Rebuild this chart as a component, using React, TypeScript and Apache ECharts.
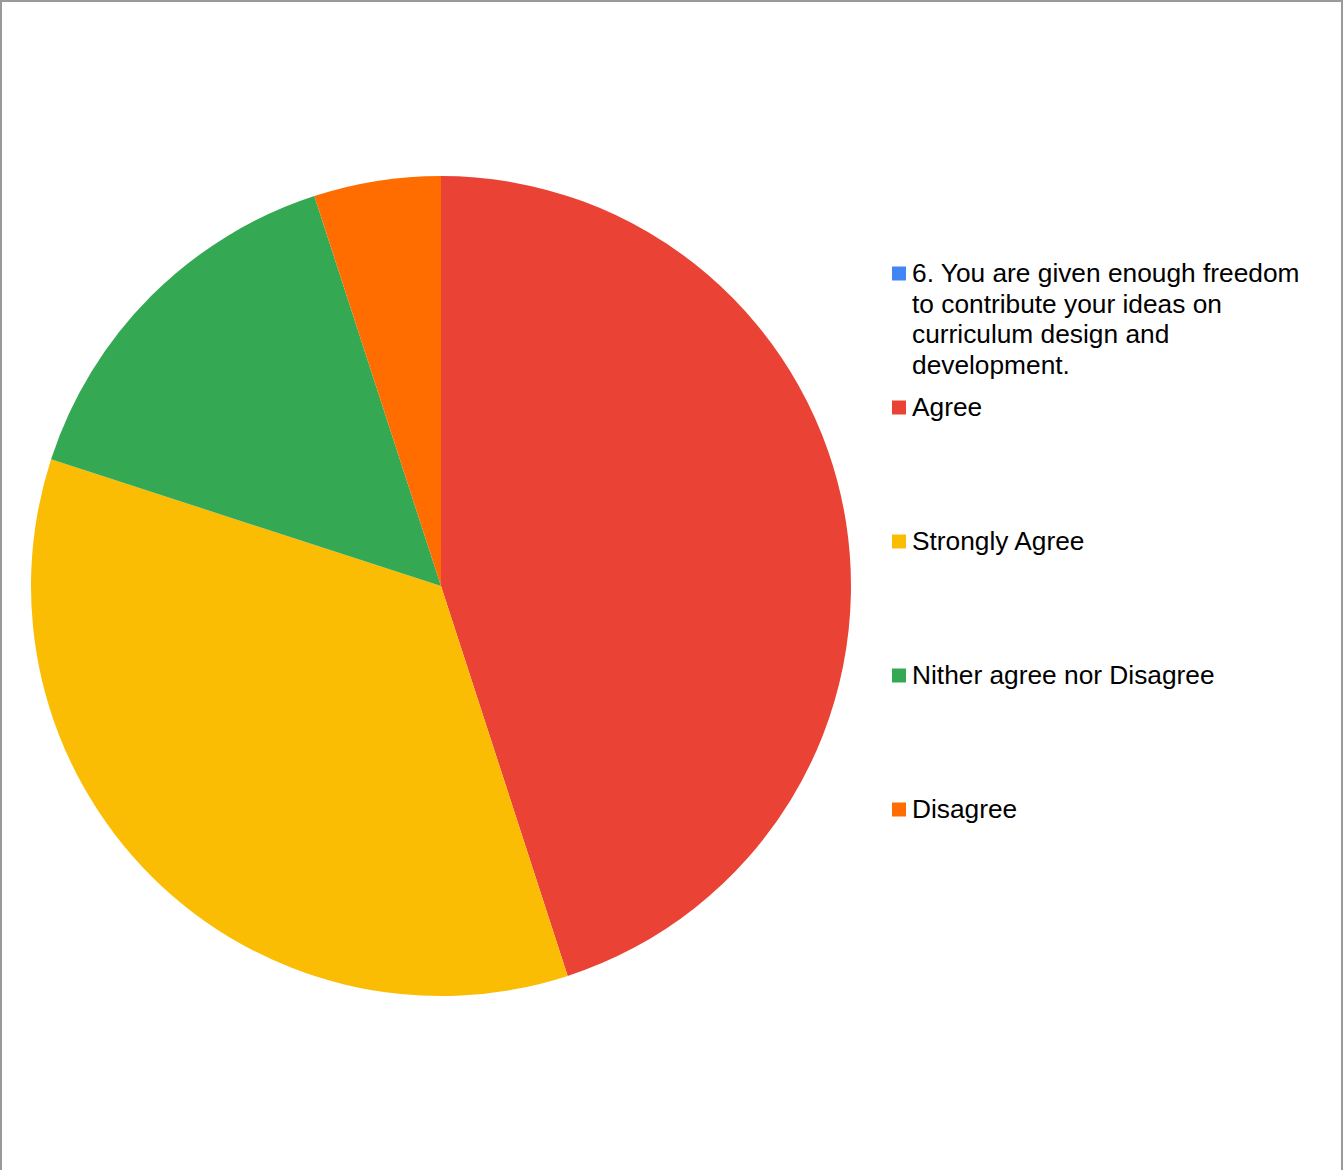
import React, { useEffect, useRef } from "react";
import * as echarts from "echarts";

const seriesName =
  "6. You are given enough freedom to contribute your ideas on curriculum design and development.";
const seriesNameLines = [
  "6. You are given enough freedom",
  "to contribute your ideas on",
  "curriculum design and",
  "development.",
];
const categories = ["Agree", "Strongly Agree", "Nither agree nor Disagree", "Disagree"];
const values = [9, 7, 3, 1];
const seriesColor = "#4285F4";
const sliceColors = ["#EA4335", "#FBBC04", "#34A853", "#FF6D01"];

export default function App() {
  const ref = useRef<HTMLDivElement>(null);
  useEffect(() => {
    document.body.style.margin = "0";
    if (!ref.current) return;
    const chart = echarts.init(ref.current, null, { renderer: "svg" });
    const font = "'Liberation Sans', Arial, sans-serif";
    const legendEntries = [
      { text: seriesNameLines.join("\n"), color: seriesColor },
      ...categories.map((c, i) => ({ text: c, color: sliceColors[i] })),
    ];
    const lineH = 30.7;
    const graphic: any[] = [];
    legendEntries.forEach((e, i) => {
      const cy = 273 + i * 134;
      graphic.push({
        type: "rect",
        shape: { x: 892, y: cy - 6.5, width: 14, height: 14 },
        style: { fill: e.color },
        silent: true,
      });
      graphic.push({
        type: "text",
        x: 912,
        y: cy - lineH / 2,
        style: {
          text: e.text,
          fill: "#000000",
          fontSize: 26.3,
          fontFamily: font,
          lineHeight: lineH,
          verticalAlign: "top",
          align: "left",
        },
        silent: true,
      });
    });
    chart.setOption({
      animation: false,
      backgroundColor: "#ffffff",
      graphic,
      series: [
        {
          name: seriesName,
          type: "pie",
          center: [441, 586],
          radius: [0, 410],
          startAngle: 90,
          clockwise: true,
          label: { show: false },
          labelLine: { show: false },
          itemStyle: { borderWidth: 0 },
          emphasis: { disabled: true },
          data: categories.map((c, i) => ({
            name: c,
            value: values[i],
            itemStyle: { color: sliceColors[i] },
          })),
        },
      ],
    });
    return () => chart.dispose();
  }, []);
  return (
    <div
      style={{
        position: "relative",
        width: 1343,
        height: 1170,
        boxSizing: "border-box",
        borderTop: "2px solid #9a9a9a",
        borderLeft: "2px solid #9a9a9a",
        borderRight: "2px solid #9a9a9a",
        overflow: "hidden",
      }}
    >
      <div ref={ref} style={{ position: "absolute", left: -2, top: -2, width: 1343, height: 1170 }} />
    </div>
  );
}
